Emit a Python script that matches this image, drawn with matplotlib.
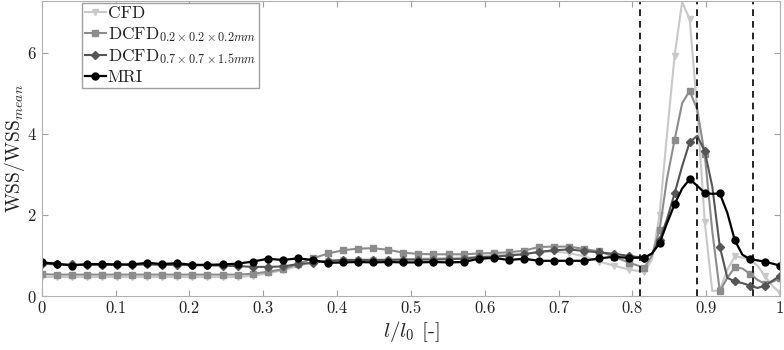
import numpy as np
import matplotlib
matplotlib.use("Agg")
import matplotlib.pyplot as plt

plt.rcParams['font.family'] = 'serif'
plt.rcParams['font.serif'] = ['cmr10', 'DejaVu Serif']
plt.rcParams['mathtext.fontset'] = 'cm'
plt.rcParams['axes.formatter.use_mathtext'] = True

# position along vessel: 40 coarse samples, then finer samples in the stenosis
x_coarse = [i / 49 for i in range(40)]
x_fine = [j / 98 for j in range(80, 99)]
x = np.array(x_coarse + x_fine)

cfd = [0.47, 0.47, 0.47, 0.47, 0.47, 0.47, 0.47, 0.47, 0.47, 0.47,
       0.47, 0.47, 0.47, 0.47, 0.50, 0.56, 0.64, 0.74, 0.83, 0.87,
       0.89, 0.90, 0.90, 0.90, 0.91, 0.92, 0.93, 0.94, 0.95, 0.97,
       1.00, 1.02, 1.05, 1.08, 1.10, 1.06, 0.98, 0.85, 0.75, 0.65,
       0.60, 0.90, 2.00, 4.00, 5.92, 7.25, 6.82, 4.60, 1.83, 0.12,
       0.15, 0.65, 0.98, 0.95, 0.90, 0.75, 0.49, 0.25, 0.08]
dcfd_02 = [0.54, 0.53, 0.53, 0.53, 0.53, 0.53, 0.53, 0.53, 0.53, 0.53,
           0.53, 0.53, 0.53, 0.53, 0.55, 0.60, 0.66, 0.79, 0.93, 1.05,
           1.13, 1.17, 1.18, 1.14, 1.07, 1.04, 1.03, 1.03, 1.03, 1.05,
           1.06, 1.08, 1.12, 1.21, 1.22, 1.22, 1.16, 1.10, 0.97, 0.82,
           0.70, 1.00, 1.63, 2.90, 3.85, 4.75, 5.06, 4.60, 3.49, 1.60,
           0.12, 0.45, 0.71, 0.68, 0.55, 0.40, 0.30, 0.35, 0.45]
dcfd_07 = [0.80, 0.78, 0.78, 0.77, 0.77, 0.77, 0.77, 0.78, 0.77, 0.77,
           0.76, 0.76, 0.75, 0.74, 0.72, 0.72, 0.73, 0.79, 0.82, 0.87,
           0.89, 0.89, 0.89, 0.89, 0.90, 0.90, 0.90, 0.91, 0.92, 0.96,
           0.97, 1.00, 1.03, 1.09, 1.13, 1.15, 1.11, 1.08, 1.04, 0.99,
           0.94, 1.05, 1.38, 1.90, 2.53, 3.20, 3.79, 3.95, 3.57, 2.70,
           1.22, 0.45, 0.36, 0.32, 0.26, 0.20, 0.26, 0.38, 0.50]
mri = [0.83, 0.80, 0.75, 0.79, 0.79, 0.78, 0.78, 0.82, 0.79, 0.81,
       0.77, 0.77, 0.78, 0.80, 0.85, 0.92, 0.89, 0.93, 0.89, 0.82,
       0.83, 0.84, 0.83, 0.84, 0.83, 0.83, 0.84, 0.83, 0.84, 0.92,
       0.94, 0.89, 0.92, 0.87, 0.87, 0.87, 0.87, 0.93, 0.97, 0.94,
       0.95, 1.05, 1.30, 1.80, 2.26, 2.65, 2.88, 2.72, 2.54, 2.52,
       2.53, 2.05, 1.37, 1.02, 0.91, 0.88, 0.85, 0.80, 0.75]

labels = ['CFD', r'DCFD$_{0.2\times0.2\times0.2mm}$',
          r'DCFD$_{0.7\times0.7\times1.5mm}$', 'MRI']
vlines = [0.810, 0.887, 0.9635]

marks = list(range(40)) + list(range(40, len(x), 2))

fig = plt.figure(figsize=(7.84, 3.5), dpi=100)
ax = fig.add_axes([0.0532, 0.154, 0.9418, 0.843])

styles = [
    (cfd, '#c8c8c8', 'v', 4.5, 1.5),
    (dcfd_02, '#8c8c8c', 's', 4.0, 1.5),
    (dcfd_07, '#555555', 'D', 3.8, 1.5),
    (mri, '#000000', 'o', 5.0, 1.6),
]
for (vals, col, mk, ms, lw), lab in zip(styles, labels):
    ax.plot(x, vals, color=col, marker=mk, markersize=ms, lw=lw,
            markevery=marks, label=lab)

for v in vlines:
    ax.axvline(v, color='black', ls=(0, (4, 3)), lw=1.2)

ax.set_xlim(0, 1)
ax.set_ylim(0, 7.27)
ax.set_xticks(np.arange(0, 1.01, 0.1))
ax.set_xticklabels(['0', '0.1', '0.2', '0.3', '0.4', '0.5', '0.6',
                    '0.7', '0.8', '0.9', '1'])
ax.set_yticks([0, 2, 4, 6])

for sp in ax.spines.values():
    sp.set_color('#b0b0b0')
ax.tick_params(direction='in', length=4, color='#a0a0a0',
               labelsize=12, labelcolor='#222222',
               top=True, right=True)

ax.set_xlabel(r'$l/l_0$ [-]', fontsize=15, color='#222222', labelpad=2)
ax.set_ylabel(r'WSS/WSS$_{mean}$', fontsize=14, color='#222222', labelpad=0)

leg = ax.legend(loc='upper left', bbox_to_anchor=(0.054, 0.995),
                fontsize=12.5, handlelength=1.2, handletextpad=0.1,
                labelspacing=0.2, borderpad=0.2, borderaxespad=0,
                fancybox=False, framealpha=1, edgecolor='#a0a0a0')
for t in leg.get_texts():
    t.set_color('#222222')

fig.savefig('out.png', dpi=100)
